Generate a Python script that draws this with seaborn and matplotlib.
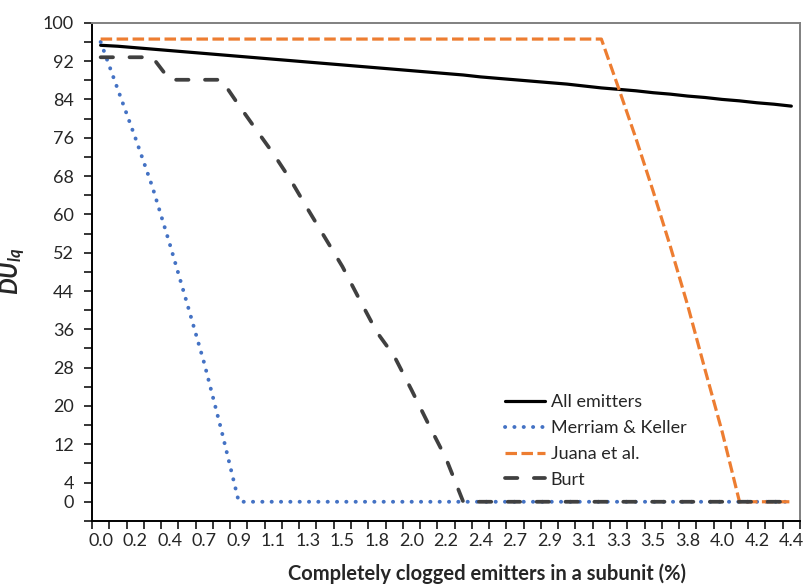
import numpy as np
import seaborn as sns
import matplotlib.pyplot as plt

# percentage of completely clogged emitters (one category per point)
clogged_pct = [0.000, 0.111, 0.221, 0.332, 0.442, 0.553, 0.664, 0.774, 0.885, 0.996,
               1.106, 1.217, 1.327, 1.438, 1.549, 1.659, 1.770, 1.881, 1.991, 2.102,
               2.212, 2.323, 2.434, 2.544, 2.655, 2.765, 2.876, 2.987, 3.097, 3.208,
               3.319, 3.429, 3.540, 3.650, 3.761, 3.872, 3.982, 4.093, 4.204, 4.314,
               4.425]

all_emitters = [95.3, 95.1, 94.8, 94.5, 94.2, 93.9, 93.6, 93.3, 93.0, 92.7,
                92.4, 92.1, 91.8, 91.5, 91.2, 90.9, 90.6, 90.3, 90.0, 89.7,
                89.4, 89.1, 88.7, 88.4, 88.1, 87.8, 87.5, 87.2, 86.8, 86.4,
                86.1, 85.8, 85.4, 85.1, 84.7, 84.4, 84.0, 83.7, 83.3, 83.0,
                82.6]

merriam_keller = [96.0, 86.0, 76.1, 65.7, 53.9, 41.5, 28.9, 14.9, 0.0, 0.0,
                  0.0, 0.0, 0.0, 0.0, 0.0, 0.0, 0.0, 0.0, 0.0, 0.0,
                  0.0, 0.0, 0.0, 0.0, 0.0, 0.0, 0.0, 0.0, 0.0, 0.0,
                  0.0, 0.0, 0.0, 0.0, 0.0, 0.0, 0.0, 0.0, 0.0, 0.0,
                  0.0]

juana = [96.6, 96.6, 96.6, 96.6, 96.6, 96.6, 96.6, 96.6, 96.6, 96.6,
         96.6, 96.6, 96.6, 96.6, 96.6, 96.6, 96.6, 96.6, 96.6, 96.6,
         96.6, 96.6, 96.6, 96.6, 96.6, 96.6, 96.6, 96.6, 96.6, 96.6,
         86.3, 75.9, 64.8, 53.3, 41.0, 27.6, 14.6, 0.0, 0.0, 0.0,
         0.0]

burt = [92.8, 92.8, 92.8, 92.8, 88.1, 88.1, 88.1, 88.1, 82.8, 77.7,
        72.7, 67.2, 61.1, 55.1, 49.1, 42.2, 35.4, 30.4, 23.4, 16.1,
        9.1, 0.0, 0.0, 0.0, 0.0, 0.0, 0.0, 0.0, 0.0, 0.0,
        0.0, 0.0, 0.0, 0.0, 0.0, 0.0, 0.0, 0.0, 0.0, 0.0,
        0.0]

x_labels = ['0.0', '0.2', '0.4', '0.7', '0.9', '1.1', '1.3', '1.5', '1.8', '2.0', '2.2',
            '2.4', '2.7', '2.9', '3.1', '3.3', '3.5', '3.8', '4.0', '4.2', '4.4']
y_labels = [0, 4, 12, 20, 28, 36, 44, 52, 60, 68, 76, 84, 92, 100]

sns.set_style('white')
plt.rcParams['font.family'] = ['Lato', 'DejaVu Sans']
plt.rcParams['mathtext.fontset'] = 'custom'
plt.rcParams['mathtext.it'] = 'Lato:italic:bold'
plt.rcParams['mathtext.rm'] = 'Lato:bold'

fig = plt.figure(figsize=(8.04, 5.84), dpi=100)
ax = fig.add_axes([0.1144, 0.108, 0.8806, 0.853])

sns.lineplot(x=clogged_pct, y=all_emitters, ax=ax, color='black', lw=2.3,
             label='All emitters', solid_capstyle='round')
sns.lineplot(x=clogged_pct, y=merriam_keller, ax=ax, color='#4472C4', lw=2.8,
             linestyle=(0, (0.05, 2.35)), dash_capstyle='round', label='Merriam & Keller')
sns.lineplot(x=clogged_pct, y=juana, ax=ax, color='#ED7D31', lw=2.3,
             linestyle=(0, (3.6, 1.4)), dash_capstyle='butt', label='Juana et al.')
sns.lineplot(x=clogged_pct, y=burt, ax=ax, color='#404040', lw=2.7,
             linestyle=(0, (3.3, 4.4)), dash_capstyle='round', label='Burt')

# category-style x axis: tick marks between points, labels on every other point
x = np.array(clogged_pct)
step = np.diff(x)
edges = np.concatenate([[x[0] - step[0] / 2], x[:-1] + step / 2, [x[-1] + step[-1] / 2]])
ax.set_xlim(edges[0], edges[-1])
ax.set_xticks(x[::2])
ax.set_xticklabels(x_labels)
ax.set_xticks(edges, minor=True)
ax.tick_params(axis='x', which='major', length=0, pad=9, labelsize=13)
ax.tick_params(axis='x', which='minor', length=5.5, width=1.1, color='black',
               direction='out', bottom=True)

yt = np.arange(-4, 101, 4)
ax.set_ylim(-4, 100)
ax.set_yticks(yt)
ax.set_yticklabels([str(v) if v in y_labels else '' for v in yt])
ax.tick_params(axis='y', length=5.5, width=1.1, color='black', direction='out',
               left=True, pad=7.5, labelsize=13)

for s in ['left', 'bottom']:
    ax.spines[s].set_color('black')
    ax.spines[s].set_linewidth(1.4)
for s in ['top', 'right']:
    ax.spines[s].set_color('#808080')
    ax.spines[s].set_linewidth(1.4)

ax.set_xlabel('Completely clogged emitters in a subunit (%)', fontsize=14.5,
              fontweight='bold')
ax.xaxis.set_label_coords(0.558, -0.085)
ax.set_ylabel(r'$DU_{lq}$', fontsize=17)
ax.yaxis.set_label_coords(-0.09, 0.5)

ax.legend(loc='upper left', bbox_to_anchor=(0.583, 0.254), frameon=False,
          fontsize=13, handlelength=2.25, handletextpad=0.3, labelspacing=0.54,
          borderpad=0, borderaxespad=0)

fig.savefig('out.png', dpi=100)
